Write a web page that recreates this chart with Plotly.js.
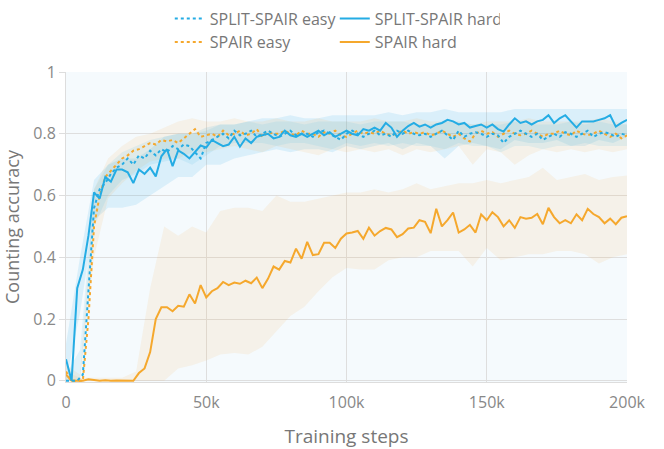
<!DOCTYPE html>
<html>
<head>
<meta charset="utf-8">
<script src="https://cdn.plot.ly/plotly-3.0.1.min.js"></script>
<style>html,body{margin:0;padding:0;background:#fff;}#chart{width:664px;height:449px;}</style>
</head>
<body>
<div id="chart"></div>
<script>
// Training steps (thousands)
const steps = [0,2,4,6,8,10,12,14,16,18,20,22,24,26,28,30,32,34,36,38,40,42,44,46,48,50,52,54,56,58,60,62,64,66,68,70,72,74,76,78,80,82,84,86,88,90,92,94,96,98,100,102,104,106,108,110,112,114,116,118,120,122,124,126,128,130,132,134,136,138,140,142,144,146,148,150,152,154,156,158,160,162,164,166,168,170,172,174,176,178,180,182,184,186,188,190,192,194,196,198,200];

const splitEasy = [0,0,0,0.02,0.3,0.56,0.62,0.64,0.67,0.69,0.70,0.72,0.70,0.73,0.72,0.745,0.73,0.75,0.74,0.76,0.75,0.765,0.76,0.74,0.72,0.77,0.78,0.79,0.80,0.785,0.81,0.795,0.80,0.81,0.79,0.80,0.81,0.80,0.79,0.80,0.81,0.795,0.80,0.80,0.79,0.805,0.81,0.80,0.79,0.78,0.80,0.81,0.80,0.79,0.80,0.81,0.795,0.80,0.79,0.81,0.80,0.81,0.80,0.795,0.80,0.79,0.80,0.81,0.795,0.78,0.81,0.79,0.80,0.805,0.80,0.79,0.80,0.795,0.77,0.79,0.80,0.81,0.80,0.79,0.80,0.78,0.79,0.80,0.79,0.805,0.80,0.79,0.80,0.81,0.79,0.80,0.805,0.80,0.79,0.80,0.795];

const splitHard = [0.07,0,0.30,0.36,0.47,0.61,0.59,0.66,0.645,0.684,0.684,0.675,0.64,0.684,0.67,0.69,0.662,0.727,0.75,0.695,0.746,0.735,0.72,0.74,0.762,0.755,0.78,0.77,0.76,0.765,0.79,0.758,0.785,0.77,0.79,0.795,0.80,0.785,0.79,0.81,0.795,0.79,0.80,0.79,0.80,0.81,0.795,0.805,0.79,0.80,0.81,0.80,0.795,0.815,0.81,0.82,0.81,0.835,0.82,0.79,0.81,0.825,0.835,0.823,0.83,0.82,0.83,0.835,0.845,0.84,0.83,0.835,0.82,0.825,0.83,0.82,0.83,0.815,0.807,0.83,0.85,0.835,0.84,0.83,0.84,0.845,0.86,0.835,0.85,0.86,0.84,0.82,0.84,0.84,0.84,0.845,0.85,0.86,0.823,0.835,0.845];

const spairEasy = [0.03,0,0,0,0.2,0.5,0.6,0.66,0.68,0.70,0.72,0.73,0.745,0.75,0.76,0.77,0.765,0.78,0.775,0.78,0.77,0.785,0.80,0.815,0.79,0.795,0.80,0.79,0.81,0.795,0.80,0.81,0.795,0.80,0.815,0.79,0.805,0.80,0.80,0.81,0.80,0.795,0.81,0.80,0.80,0.79,0.805,0.80,0.81,0.795,0.79,0.80,0.81,0.80,0.805,0.80,0.81,0.80,0.795,0.80,0.81,0.80,0.805,0.80,0.805,0.795,0.80,0.81,0.80,0.79,0.80,0.785,0.775,0.80,0.81,0.80,0.805,0.79,0.80,0.81,0.80,0.795,0.80,0.81,0.80,0.79,0.80,0.80,0.81,0.80,0.795,0.81,0.80,0.795,0.80,0.81,0.80,0.79,0.80,0.785,0.795];

const spairHard = [0.02,0,0,0,0.005,0.002,0,0.002,0,0.001,0,0.001,0,0.025,0.04,0.093,0.2,0.238,0.238,0.225,0.243,0.24,0.28,0.25,0.31,0.27,0.29,0.30,0.32,0.31,0.318,0.314,0.324,0.316,0.334,0.30,0.33,0.37,0.36,0.388,0.383,0.428,0.395,0.45,0.407,0.41,0.447,0.447,0.43,0.46,0.477,0.48,0.485,0.46,0.496,0.47,0.485,0.495,0.49,0.465,0.475,0.493,0.496,0.52,0.515,0.478,0.557,0.50,0.52,0.545,0.48,0.49,0.505,0.48,0.539,0.52,0.546,0.53,0.50,0.52,0.495,0.53,0.525,0.528,0.54,0.507,0.56,0.53,0.51,0.52,0.51,0.539,0.52,0.557,0.54,0.53,0.51,0.525,0.507,0.528,0.533];

// Spread bands (thousands of steps)
const bandSteps = [0,5,10,15,20,25,30,35,40,45,50,55,60,65,70,75,80,85,90,95,100,105,110,115,120,125,130,135,140,145,150,155,160,165,170,175,180,185,190,195,200];

const splitEasyHi = [0.02,0.1,0.62,0.70,0.74,0.76,0.78,0.79,0.80,0.80,0.81,0.83,0.83,0.84,0.83,0.84,0.84,0.83,0.84,0.84,0.84,0.83,0.84,0.84,0.84,0.83,0.83,0.84,0.84,0.83,0.83,0.83,0.84,0.83,0.83,0.83,0.84,0.83,0.84,0.83,0.83];
const splitEasyLo = [0,0,0.50,0.60,0.65,0.67,0.70,0.71,0.72,0.70,0.73,0.76,0.77,0.77,0.77,0.76,0.77,0.77,0.76,0.75,0.77,0.76,0.77,0.76,0.77,0.76,0.76,0.75,0.77,0.76,0.76,0.74,0.76,0.76,0.75,0.76,0.76,0.77,0.76,0.76,0.76];

const splitHardHi = [0.12,0.40,0.65,0.70,0.72,0.72,0.75,0.79,0.80,0.80,0.82,0.83,0.83,0.84,0.85,0.85,0.86,0.85,0.85,0.86,0.86,0.86,0.86,0.87,0.86,0.87,0.87,0.88,0.87,0.87,0.87,0.87,0.88,0.88,0.88,0.88,0.88,0.88,0.88,0.88,0.88];
const splitHardLo = [0,0.22,0.52,0.56,0.56,0.57,0.60,0.63,0.66,0.66,0.70,0.70,0.72,0.73,0.74,0.75,0.74,0.75,0.75,0.74,0.76,0.75,0.76,0.77,0.75,0.77,0.76,0.72,0.76,0.77,0.76,0.75,0.78,0.77,0.77,0.78,0.76,0.76,0.78,0.77,0.79];

const spairEasyHi = [0.05,0.02,0.62,0.72,0.76,0.79,0.80,0.82,0.84,0.85,0.84,0.84,0.85,0.84,0.84,0.85,0.84,0.84,0.85,0.84,0.84,0.84,0.85,0.84,0.84,0.85,0.84,0.84,0.84,0.83,0.84,0.84,0.84,0.85,0.84,0.84,0.84,0.84,0.85,0.84,0.83];
const spairEasyLo = [0,0,0.40,0.59,0.64,0.68,0.71,0.72,0.72,0.74,0.74,0.75,0.76,0.75,0.74,0.76,0.75,0.74,0.73,0.75,0.74,0.75,0.74,0.75,0.73,0.75,0.74,0.75,0.76,0.70,0.75,0.74,0.70,0.73,0.75,0.74,0.75,0.74,0.75,0.74,0.75];

const spairHardHi = [0.03,0.01,0.01,0.01,0.01,0.03,0.30,0.50,0.47,0.50,0.48,0.55,0.56,0.56,0.55,0.60,0.58,0.58,0.59,0.60,0.61,0.61,0.62,0.61,0.62,0.64,0.62,0.63,0.64,0.64,0.65,0.64,0.65,0.66,0.69,0.65,0.66,0.67,0.65,0.66,0.665];
const spairHardLo = [0,0,0,0,0,0,0,0,0.04,0.05,0.066,0.085,0.09,0.085,0.11,0.16,0.21,0.24,0.29,0.335,0.365,0.36,0.36,0.39,0.40,0.40,0.42,0.42,0.42,0.37,0.43,0.39,0.40,0.41,0.41,0.42,0.42,0.41,0.38,0.40,0.41];

const xTickVals = [0,50,100,150,200];
const xTickText = ['0','50k','100k','150k','200k'];
const yTickVals = [0,0.2,0.4,0.6,0.8,1];
const yTickText = ['0','0.2','0.4','0.6','0.8','1'];

const BLUE = 'rgb(36,172,228)';
const ORANGE = 'rgb(245,168,45)';

function band(hi, lo, fill) {
  return [
    {x: bandSteps, y: hi, mode: 'lines', line: {width: 0}, showlegend: false, hoverinfo: 'skip'},
    {x: bandSteps, y: lo, mode: 'lines', line: {width: 0}, fill: 'tonexty', fillcolor: fill, showlegend: false, hoverinfo: 'skip'}
  ];
}

const traces = [].concat(
  band(spairHardHi, spairHardLo, 'rgba(245,175,70,0.11)'),
  band(splitHardHi, splitHardLo, 'rgba(36,172,228,0.13)'),
  band(spairEasyHi, spairEasyLo, 'rgba(245,175,70,0.11)'),
  band(splitEasyHi, splitEasyLo, 'rgba(36,172,228,0.10)'),
  [
    {x: steps, y: spairHard, mode: 'lines', name: 'SPAIR hard', line: {color: ORANGE, width: 2}, legend: 'legend2', legendrank: 2},
    {x: steps, y: spairEasy, mode: 'lines', name: 'SPAIR easy', line: {color: ORANGE, width: 2, dash: 'dot'}, legend: 'legend2', legendrank: 1},
    {x: steps, y: splitEasy, mode: 'lines', name: 'SPLIT-SPAIR easy', line: {color: BLUE, width: 2, dash: 'dot'}, legend: 'legend', legendrank: 1},
    {x: steps, y: splitHard, mode: 'lines', name: 'SPLIT-SPAIR hard', line: {color: BLUE, width: 2}, legend: 'legend', legendrank: 2}
  ]
);

const FONT = '"Open Sans", "Noto Sans", sans-serif';
const legendCommon = {
  orientation: 'h', xref: 'paper', yref: 'container', xanchor: 'left', yanchor: 'middle',
  traceorder: 'normal',
  font: {family: FONT, size: 16, color: '#777'}, bgcolor: 'rgba(0,0,0,0)',
  entrywidth: 120, entrywidthmode: 'pixels', itemwidth: 30, tracegroupgap: 0
};

const layout = {
  width: 664, height: 449,
  margin: {l: 66, r: 37, t: 72, b: 67},
  paper_bgcolor: '#ffffff',
  plot_bgcolor: '#f5fafd',
  font: {family: FONT, color: '#777'},
  showlegend: true,
  legend: Object.assign({}, legendCommon, {x: 0.185, y: 1 - 18.5 / 449}),
  legend2: Object.assign({}, legendCommon, {x: 0.185, y: 1 - 42 / 449}),
  xaxis: {
    range: [0, 200], tickvals: xTickVals, ticktext: xTickText,
    showgrid: true, gridcolor: '#dedede', gridwidth: 1,
    showline: true, linecolor: '#dddddd', linewidth: 1,
    zeroline: false, ticks: '', fixedrange: true, ticklabelstandoff: 6,
    tickfont: {family: FONT, size: 16, color: '#888'},
    title: {text: 'Training steps', font: {family: FONT, size: 19, color: '#777'}, standoff: 20}
  },
  yaxis: {
    range: [-0.004, 1], tickvals: yTickVals, ticktext: yTickText,
    showgrid: true, gridcolor: '#dedede', gridwidth: 1,
    showline: true, linecolor: '#dddddd', linewidth: 1,
    zeroline: false, ticks: 'outside', ticklen: 6, tickcolor: '#dddddd',
    tickfont: {family: FONT, size: 16, color: '#888'},
    title: {text: 'Counting accuracy', font: {family: FONT, size: 18, color: '#777'}, standoff: 8}
  }
};

Plotly.newPlot('chart', traces, layout, {displayModeBar: false, staticPlot: true});
</script>
</body>
</html>
